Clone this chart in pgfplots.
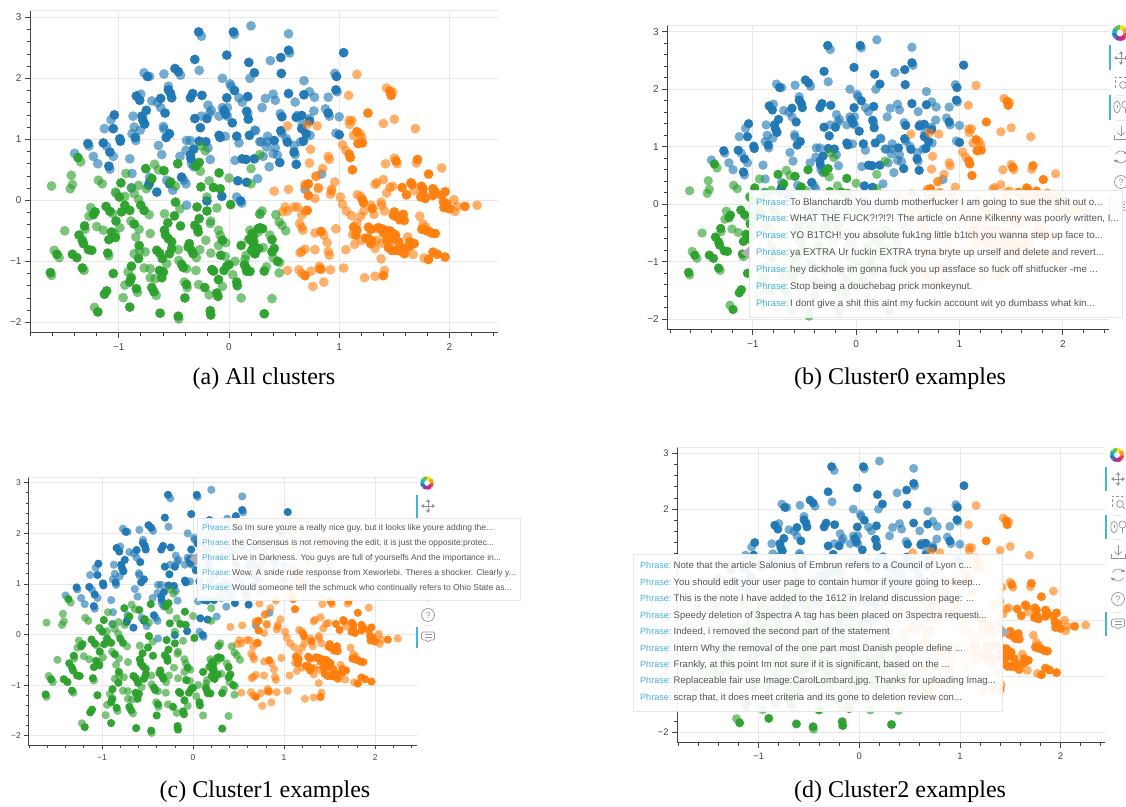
\documentclass[border=0pt]{standalone}
\usepackage{fontspec}
\setmainfont{Liberation Serif}
\newfontfamily\hel{Liberation Sans}
\usepackage{pgfplots}
\usepackage{pgfplotstable}
\pgfplotsset{compat=1.18}
\definecolor{cblue}{HTML}{1F77B4}
\definecolor{corange}{HTML}{FF7F0E}
\definecolor{cgreen}{HTML}{2CA02C}
\definecolor{spine}{HTML}{444444}
\definecolor{gridc}{HTML}{E8E8E8}
\definecolor{phr}{HTML}{4AB2DC}
\definecolor{ttxt}{HTML}{555555}
\definecolor{barc}{HTML}{45B3DC}
\definecolor{icon}{HTML}{959595}

% ---- blue, lighter points
\pgfplotstableread[row sep=\\]{x y\\
.20 2.86\\-.25 2.69\\.05 2.72\\-.44 2.05\\-.27 2.13\\-.77 2.09\\-.72 2.03\\-.59 2.07\\.19 2.0\\-.06 2.0\\.01 1.91\\.02 1.87\\-.55 1.87\\-.80 1.74\\-.70 1.63\\-.65 1.60\\-.62 1.52\\.09 1.68\\.12 1.61\\-.19 1.56\\-.16 1.475\\-.175 1.43\\-.25 1.38\\-.09 1.38\\-.06 1.52\\-.015 1.38\\-.015 1.52\\.17 1.42\\.24 1.14\\.09 .94\\-.035 1.05\\-1.07 1.32\\-1.13 1.175\\-.87 1.38\\-.86 1.2\\-.805 1.15\\-.88 1.09\\-.845 .98\\-.595 1.21\\-.59 1.17\\-.64 .90\\-.61 .75\\-1.27 .89\\-1.11 .885\\-1.05 .72\\-1.40 .77\\-1.23 .72\\-1.19 .60\\-1.08 .51\\-.90 .68\\-.88 .44\\-.385 .98\\-.35 .98\\-.19 .86\\-.39 .82\\-.445 .72\\-.34 .60\\-.32 .55\\-.17 .67\\.055 .655\\-.41 .33\\-.39 .27\\-.72 .38\\-.565 .33\\.26 .355\\.29 .96\\
.54 2.73\\.55 2.415\\.375 2.29\\.96 2.08\\.68 1.96\\.98 1.78\\.40 1.74\\.33 1.67\\.42 1.64\\.30 1.52\\.73 1.78\\.775 1.69\\.60 1.61\\.90 1.69\\.875 1.50\\.91 1.38\\1.0 1.37\\.77 1.465\\.465 1.42\\.62 1.39\\.73 1.34\\.665 1.245\\.735 1.065\\.65 .96\\.48 1.10\\.97 1.10\\.235 1.15\\.35 1.05\\.28 .96\\.35 .96\\.42 .86\\.34 .875\\.40 .765\\.44 .74\\.52 1.01\\.59 .90\\.60 .75\\.31 .72\\.365 .55\\.84 .43\\
-.51 .165\\.07 .055\\.115 -.045\\-.385 -.08\\.69 .18\\-.885 .21\\}\blueL
% ---- blue, darker points
\pgfplotstableread[row sep=\\]{x y\\
-.275 2.76\\.04 2.76\\-.02 2.38\\-.31 2.31\\.18 2.26\\-.49 2.16\\-.46 2.11\\-.74 2.03\\.23 2.09\\.05 1.80\\-.55 1.81\\-.53 1.75\\-.52 1.68\\-.84 1.71\\-.81 1.64\\-.62 1.67\\-.58 1.43\\-.33 1.75\\-.35 1.68\\-.245 1.72\\-.02 1.68\\.17 1.70\\-.31 1.34\\-.2 1.34\\-.26 1.19\\-.045 1.475\\-.03 1.41\\.03 1.27\\.16 1.46\\.175 1.33\\.185 1.065\\.07 1.05\\-.09 1.065\\-.08 1.03\\-1.04 1.40\\-1.05 1.175\\-.79 1.38\\-.75 1.475\\-.78 1.31\\-.765 1.25\\-.85 1.03\\-.99 1.01\\-.985 .97\\-.54 1.09\\-.57 1.03\\-1.28 .93\\-1.14 .94\\-1.08 .79\\-1.09 .56\\-.27 .97\\-.21 .96\\-.32 .84\\-.35 .75\\-.345 .68\\.12 .68\\.155 .67\\.23 .68\\-.43 .38\\-.72 .295\\-.54 .27\\.08 .32\\.16 .295\\
.54 2.46\\.47 2.34\\.475 2.08\\1.04 2.42\\.975 2.03\\.97 1.81\\.54 1.75\\.68 1.73\\.90 1.43\\.48 1.37\\.61 1.36\\.66 1.39\\.73 1.30\\.66 1.175\\.70 1.09\\.675 .97\\.47 1.14\\1.0 1.075\\.41 .98\\.53 .955\\.59 .79\\.46 .62\\.61 .59\\
-.73 .245\\-.655 .135\\.105 -.01\\-.20 -.01\\-.065 .065\\}\blueD
% ---- orange, lighter points
\pgfplotstableread[row sep=\\]{x y\\
1.16 2.065\\1.43 1.84\\1.485 1.77\\1.085 1.72\\1.50 1.33\\1.40 1.26\\1.69 1.175\\1.115 1.31\\1.09 1.31\\1.095 1.245\\.53 1.22\\.71 1.24\\.80 1.22\\1.19 1.09\\1.13 1.065\\1.205 1.03\\1.03 .91\\1.06 .82\\.74 .835\\.90 .72\\.91 .67\\.73 .61\\.85 .52\\.79 .40\\1.42 .60\\1.50 .69\\1.525 .60\\1.70 .61\\1.93 .53\\.96 .30\\1.40 .34\\1.34 .29\\1.325 .26\\.69 .26\\.54 .18\\.41 .15\\.81 .21\\.93 .185\\
1.485 .23\\1.46 .21\\1.43 .12\\1.68 .16\\2.04 .01\\2.07 -.10\\2.05 -.185\\2.25 -.08\\.92 .10\\.93 .15\\1.01 .055\\1.03 -.065\\1.065 -.175\\1.11 -.25\\1.165 .09\\1.195 .065\\1.225 -.175\\1.195 -.26\\1.16 -.37\\1.29 -.08\\1.315 -.23\\1.38 -.03\\1.385 -.08\\1.41 -.175\\.69 -.175\\.51 -.11\\.53 -.175\\.485 -.19\\.59 -.11\\.62 -.11\\.66 -.24\\.64 -.38\\.66 -.44\\.67 -.49\\.78 -.535\\.86 -.57\\.89 -.69\\.97 -.465\\.69 -.80\\.66 -.84\\.645 -.86\\.78 -.81\\.90 -.84\\.91 -.90\\1.06 -.81\\.53 -1.15\\.635 -1.14\\.66 -1.20\\.745 -1.16\\.82 -1.08\\.84 -1.13\\.92 -1.14\\1.04 -1.11\\.76 -1.41\\.86 -1.34\\1.23 -1.27\\1.325 -1.245\\1.41 -1.15\\1.38 -.96\\1.73 -.26\\1.76 -.39\\1.785 -.44\\1.62 -.60\\1.67 -.89\\1.77 -.945\\1.12 -.56\\1.20 -.655\\1.14 -.72\\1.335 -.465\\1.325 -.79\\1.335 -.655\\1.385 -.70\\1.46 -.71\\1.55 -.765\\.78 .03\\.81 .19\\.69 .235\\.79 .39\\}\orangeL
% ---- orange, darker points
\pgfplotstableread[row sep=\\]{x y\\
1.46 1.79\\1.47 1.72\\1.26 1.43\\1.16 1.125\\1.21 .94\\1.17 .93\\1.09 .755\\1.10 .70\\1.12 .50\\1.515 .645\\1.71 .67\\1.81 .43\\.72 .27\\
1.57 .21\\1.61 .09\\1.65 .285\\1.66 .26\\1.745 .23\\1.76 .19\\1.78 .03\\1.74 .055\\1.76 .11\\1.85 .19\\1.87 .14\\1.85 .08\\1.96 .14\\1.93 .08\\1.945 -.03\\1.975 -.055\\1.95 -.12\\2.0 -.14\\2.14 -.10\\1.21 .01\\1.22 -.04\\1.30 -.135\\1.50 -.19\\1.49 -.245\\1.52 -.27\\1.58 -.23\\1.55 -.32\\1.59 -.33\\.71 -.165\\.835 -.51\\.69 -1.235\\.825 -1.125\\1.40 -1.235\\1.75 -.475\\1.78 -.49\\1.81 -.51\\1.84 -.535\\1.87 -.545\\1.64 -.68\\1.68 -.71\\1.64 -.755\\1.85 -.85\\1.89 -.885\\1.81 -.97\\1.96 -.93\\1.13 -.44\\1.16 -.49\\1.15 -.57\\1.265 -.44\\1.285 -.48\\1.355 -.45\\1.385 -.465\\1.415 -.49\\1.46 -.50\\1.49 -.545\\1.51 -.57\\1.445 -.57\\1.40 -.535\\1.24 -.62\\1.265 -.63\\1.295 -.665\\1.285 -.71\\1.43 -.655\\1.46 -.63\\1.49 -.63\\1.445 -.775\\1.475 -.82\\1.51 -.82\\1.54 -.68\\1.57 -.775\\1.55 -.83\\1.59 -.875\\1.60 -.79\\.72 .08\\}\orangeD
% ---- green, lighter points
\pgfplotstableread[row sep=\\]{x y\\
-1.345 .63\\-1.43 .41\\-1.42 .26\\-1.61 .235\\-1.44 .19\\-1.185 .33\\-1.15 .27\\-.935 .44\\-.675 .59\\-.64 .50\\-.26 .475\\-.18 .32\\0 .365\\.20 .52\\.28 .75\\-.25 .89\\-.215 .81\\-.82 .245\\-.75 .19\\-.485 .235\\.20 .27\\-1.03 .135\\-.885 .20\\
-1.025 .12\\-.945 .065\\-.86 .11\\-.82 .015\\-1.255 -.12\\-1.27 -.26\\-1.055 -.22\\-1.20 -.43\\-1.305 -.475\\-1.49 -.50\\-1.14 -.49\\-1.035 -.55\\-.99 -.45\\-1.585 -.82\\-1.54 -.94\\-1.315 -1.15\\-1.61 -1.23\\-1.09 -.91\\-1.22 -1.755\\-.96 -1.595\\-.915 -1.175\\-.885 -1.26\\-.945 -1.39\\-.86 -.875\\-.81 -.82\\-.76 -.845\\-.89 -.34\\-.815 -.475\\-.845 -.60\\-.725 -.235\\-.715 -.545\\-.585 -.22\\-.445 -.14\\-.46 -.81\\-.565 -1.04\\-.77 -1.11\\-.715 -1.12\\-.715 -1.27\\-.67 -1.285\\-.83 -1.51\\-.66 -1.56\\-.455 -1.945\\-.455 -.985\\-.385 -1.12\\-.405 -1.34\\-.38 -1.43\\-.30 -1.15\\-.275 -1.38\\-.18 -1.55\\-.06 -1.41\\.11 -1.60\\.055 -1.0\\.035 -1.22\\.145 -.97\\.155 -.90\\-.035 -.92\\-.03 -.695\\-.095 -.49\\-.08 -.575\\-.095 -.74\\-.165 -.865\\-.21 -.655\\-.265 -.81\\-.295 -.94\\-.165 -.34\\-.17 -.38\\-.20 .055\\-.11 -.125\\.28 -.22\\.265 -.52\\.19 -.49\\.175 -.645\\
.31 -.775\\.30 -.175\\.28 -.23\\.425 -.235\\.455 -.355\\.48 -.41\\.515 -.50\\.37 -.57\\.40 -.94\\.46 -1.02\\.34 -1.09\\.455 -1.19\\.39 -1.61\\}\greenL
% ---- green, darker points
\pgfplotstableread[row sep=\\]{x y\\
-1.37 .70\\-.755 .52\\-.59 .485\\-.465 .60\\-.27 .62\\-.30 .56\\-.09 .45\\-.98 .285\\-.70 .355\\-.53 .30\\-.255 .22\\-.14 .21\\-.08 .19\\
-.995 .055\\-.945 -.08\\-.975 -.19\\-.90 -.165\\-1.215 -.19\\-1.23 -.235\\-1.115 -.10\\-1.08 -.18\\-1.025 -.34\\-1.31 -.42\\-1.36 -.57\\-1.33 -.655\\-1.32 -.71\\-1.065 -.52\\-1.09 -.645\\-1.03 -.61\\-1.275 -.81\\-1.245 -.82\\-1.56 -.885\\-1.42 -.885\\-1.38 -.94\\-1.33 -1.11\\-1.62 -1.185\\-1.10 -.865\\-1.05 -1.20\\-1.11 -1.485\\-1.13 -1.54\\-1.19 -1.83\\-.90 -1.75\\-.89 -1.285\\-.90 -1.34\\-.885 -1.08\\-.82 -.955\\-.815 -.74\\-.86 -.39\\-.80 -.08\\-.77 -.165\\-.495 -.255\\-.555 -.37\\-.485 -.03\\-.44 -.42\\-.585 -.49\\-.575 -.57\\-.55 -.63\\-.52 -.68\\-.52 -.79\\-.54 -.875\\-.655 -.82\\-.63 -.865\\-.605 -.955\\-.63 -1.15\\-.595 -1.175\\-.61 -1.27\\-.84 -1.45\\-.70 -1.43\\-.68 -1.50\\-.625 -1.85\\-.46 -1.90\\-.43 -1.05\\-.415 -1.10\\-.385 -1.38\\-.40 -1.60\\-.22 -1.43\\-.11 -1.52\\-.10 -1.575\\-.17 -1.81\\-.165 -1.88\\-.155 -1.135\\-.14 -1.16\\-.095 -1.30\\.07 -1.34\\.075 -1.40\\-.045 -1.15\\-.02 -1.08\\0 -1.055\\.14 -1.055\\.155 -1.11\\.16 -1.16\\-.075 -.90\\-.06 -.655\\-.36 -.71\\-.37 -.765\\-.34 -.82\\-.325 -.875\\-.31 -.41\\-.27 -.30\\-.285 -.465\\-.28 -.52\\-.20 -.175\\-.29 -.11\\.015 -.07\\.11 -.74\\.22 -.59\\.22 -.71\\.235 -.875\\.265 -.465\\
.21 -.545\\.19 -.63\\.225 -.68\\.205 -.82\\.235 -.875\\.27 -.79\\.28 -.45\\.305 -.465\\.39 -.645\\.41 -.79\\.39 -.845\\.44 -1.0\\.32 -1.16\\.32 -1.86\\.19 -1.165\\}\greenD

\pgfplotsset{panel/.style={
  scale only axis, anchor=south west,
  axis lines*=left, axis line style={-,color=spine,line width=1pt},
  tick align=outside, major tick length=5pt, minor tick length=3pt,
  tick style={color=spine,line width=.8pt},
  minor tick style={line width=.7pt},
  xmajorgrids, ymajorgrids, grid style={gridc,line width=.8pt},
  xtick={-1,0,1,2}, xticklabels={−1,0,1,2},
  ytick={-2,-1,0,1,2,3}, yticklabels={−2,−1,0,1,2,3},
  minor xtick={-1.8,-1.6,-1.4,-1.2,-.8,-.6,-.4,-.2,.2,.4,.6,.8,1.2,1.4,1.6,1.8,2.2,2.4},
  minor ytick={-1.8,-1.6,-1.4,-1.2,-.8,-.6,-.4,-.2,.2,.4,.6,.8,1.2,1.4,1.6,1.8,2.2,2.4,2.6,2.8},
  tick label style={text=spine},
  xticklabel style={yshift=-2pt},
  clip=true,
}}
\newcommand\clusters[1]{%
  \addplot[only marks,mark=*,mark size=#1,mark options={draw opacity=0,fill=cblue,fill opacity=.62}] table {\blueL};
  \addplot[only marks,mark=*,mark size=#1,mark options={draw opacity=0,fill=cblue,fill opacity=.97}] table {\blueD};
  \addplot[only marks,mark=*,mark size=#1,mark options={draw opacity=0,fill=corange,fill opacity=.62}] table {\orangeL};
  \addplot[only marks,mark=*,mark size=#1,mark options={draw opacity=0,fill=corange,fill opacity=.97}] table {\orangeD};
  \addplot[only marks,mark=*,mark size=#1,mark options={draw opacity=0,fill=cgreen,fill opacity=.62}] table {\greenL};
  \addplot[only marks,mark=*,mark size=#1,mark options={draw opacity=0,fill=cgreen,fill opacity=.97}] table {\greenD};
  \draw[gridc,line width=.8pt] (rel axis cs:0,1) -- (rel axis cs:1,1) -- (rel axis cs:1,0);
}
% ---- toolbar glyphs, coordinates in image pixels (scope below)
\newcommand\icmove[2]{\begin{scope}[shift={(#1,#2)},icon,line width=.7pt]
  \draw (-6,0)--(6,0) (0,-6)--(0,6);
  \fill (-7,0)--(-4,-2)--(-4,2)--cycle (7,0)--(4,-2)--(4,2)--cycle (0,-7)--(-2,-4)--(2,-4)--cycle (0,7)--(-2,4)--(2,4)--cycle;
\end{scope}}
\newcommand\iczoom[2]{\begin{scope}[shift={(#1,#2)},icon,line width=.7pt]
  \draw[densely dashed] (-6,5)--(-6,-6)--(5,-6);
  \draw (2,2) circle (3.4); \draw (4.5,4.5)--(7,7);
\end{scope}}
\newcommand\icwheel[2]{\begin{scope}[shift={(#1,#2)},icon,line width=.7pt]
  \draw (-4,0) ellipse (3.2 and 6); \draw (-4,-2)--(-4,1);
  \draw (4.5,-2.5) circle (3.6); \draw (4.5,1)--(4.5,6.5);
\end{scope}}
\newcommand\icsave[2]{\begin{scope}[shift={(#1,#2)},icon,line width=.7pt]
  \draw (-7,2)--(-7,6)--(7,6)--(7,2); \draw (0,-7)--(0,3);
  \draw (-3.5,-.5)--(0,3)--(3.5,-.5);
\end{scope}}
\newcommand\icreset[2]{\begin{scope}[shift={(#1,#2)},icon,line width=.7pt]
  \draw (25:6) arc[start angle=25,end angle=150,radius=6];
  \draw (205:6) arc[start angle=205,end angle=330,radius=6];
  \fill (150:6)++(-2.2,0)--++(4.4,0)--++(-2.2,2.8)--cycle;
  \fill (330:6)++(-2.2,0)--++(4.4,0)--++(-2.2,-2.8)--cycle;
\end{scope}}
\newcommand\ichelp[2]{\begin{scope}[shift={(#1,#2)},icon,line width=.7pt]
  \draw (0,0) circle (6.5);
  \node[inner sep=0,text=icon] at (0,0) {\hel\fontsize{9}{9}\selectfont ?};
\end{scope}}
\newcommand\iccomment[2]{\begin{scope}[shift={(#1,#2)},icon,line width=.7pt]
  \draw[rounded corners=1.5] (-6.5,-5)--(6.5,-5)--(6.5,3)--(2,3)--(-1,6)--(-1,3)--(-6.5,3)--cycle;
  \draw (-3.5,-2.5)--(3.5,-2.5) (-3.5,.5)--(3.5,.5);
\end{scope}}
\newcommand\iclogo[3]{\begin{scope}[shift={(#1,#2)},line width=#3*.55pt]
  \foreach \cc/\ang in {F5403C/0,E5187A/45,8A3FA8/90,2E75C8/135,20B5B0/180,5FC24A/225,F4E11E/270,F9A01B/315}{
    \definecolor{lg}{HTML}{\cc}
    \draw[lg] (\ang:#3*.72) arc[start angle=\ang,delta angle=47,radius=#3*.72];
  }
\end{scope}}
\newcommand\tbar[3]{\draw[barc,line width=1.6pt] (#1,#2)--(#1,#3);}
\newcommand\tsep[2]{\draw[gridc,line width=.8pt] (#1-4,#2)--(#1+4,#2);}
\newcommand\phrase[4]{%x y textx text; \txtf is the text's size
  \node[anchor=west,inner sep=0,text=phr] at (#1,#2) {\strut Phrase:};
  \node[anchor=west,inner sep=0,text=ttxt] at (#3,#2) {\txtf\strut #4};
}
\newcommand\capt[3]{\node[inner sep=0] at (#1,#2) {\fontsize{24}{26}\selectfont #3};}

\begin{document}
\begin{tikzpicture}
\useasboundingbox (0,0) rectangle (1126pt,806pt);
% (a)
\begin{axis}[panel,at={(30pt,473pt)},width=468pt,height=323pt,
  xmin=-1.805,xmax=2.44,ymin=-2.175,ymax=3.12,
  tick label style={font=\hel\fontsize{10}{11}\selectfont}]
\clusters{4.9pt}
\end{axis}
% (b)
\begin{axis}[panel,at={(667.3pt,476pt)},width=441.7pt,height=305pt,
  xmin=-1.826,xmax=2.446,ymin=-2.186,ymax=3.117,
  tick label style={font=\hel\fontsize{10}{11}\selectfont}]
\clusters{4.7pt}
\end{axis}
% (c)
\begin{axis}[panel,at={(28.3pt,60.7pt)},width=388.7pt,height=268pt,
  xmin=-1.81,xmax=2.46,ymin=-2.19,ymax=3.107,
  tick label style={font=\hel\fontsize{8.5}{9}\selectfont},major tick length=4pt,minor tick length=2.5pt]
\clusters{4.1pt}
\end{axis}
% (d)
\begin{axis}[panel,at={(677.3pt,63.3pt)},width=427.7pt,height=295.4pt,
  xmin=-1.809,xmax=2.442,ymin=-2.186,ymax=3.107,
  tick label style={font=\hel\fontsize{9.5}{10}\selectfont}]
\clusters{4.5pt}
\end{axis}

\begin{scope}[x=1pt,y=-1pt,yshift=806pt]
% toolbars
\iclogo{1120}{33}{8}
\tbar{1110}{45}{70}\tbar{1110}{95}{120}\tbar{1110}{195}{218}
\icmove{1121}{58}\iczoom{1121}{83}\icwheel{1121}{107}\icsave{1121}{133}\icreset{1121}{157}\ichelp{1121}{182}\iccomment{1121}{207}
\tsep{1121}{95}\tsep{1121}{120}\tsep{1121}{195}

\iclogo{427}{483}{7}
\tbar{417}{495}{520}\tbar{417}{627}{648}
\icmove{428}{506}\iczoom{428}{531}\icwheel{428}{555}\icsave{428}{575}\icreset{428}{595}\ichelp{428}{615}\iccomment{428}{637}
\tsep{428}{625}

\iclogo{1117}{455}{7.5}
\tbar{1106}{467}{491}\tbar{1106}{515}{539}\tbar{1106}{612}{636}
\icmove{1118}{479}\iczoom{1118}{502}\icwheel{1118}{527}\icsave{1118}{552}\icreset{1118}{575}\ichelp{1118}{599}\iccomment{1118}{624}
\tsep{1118}{515}\tsep{1118}{539}\tsep{1118}{612}

% tooltip (b)
\begin{scope}[every node/.append style={font=\hel\fontsize{9.4}{11}\selectfont}]
\def\txtf{\fontsize{9.75}{11}\selectfont}
\fill[white,fill opacity=.93] (749,190) rectangle (1122,317);
\draw[gray!18,line width=.7pt] (749,190) rectangle (1122,317);
\fill[gray!65] (741,253)--(749,247)--(749,259)--cycle;
\phrase{756}{203}{790}{To Blanchardb You dumb motherfucker I am going to sue the shit out o...}
\phrase{756}{219}{790}{WHAT THE FUCK?!?!?! The article on Anne Kilkenny was poorly written, I...}
\phrase{756}{236}{790}{YO B1TCH! you absolute fuk1ng little b1tch you wanna step up face to...}
\phrase{756}{253}{790}{ya EXTRA Ur fuckin EXTRA tryna bryte up urself and delete and revert...}
\phrase{756}{270}{790}{hey dickhole im gonna fuck you up assface so fuck off shitfucker -me ...}
\phrase{756}{287}{790}{Stop being a douchebag prick monkeynut.}
\phrase{756}{304}{790}{I dont give a shit this aint my fuckin account wit yo dumbass what kin...}
\end{scope}
% tooltip (c)
\begin{scope}[every node/.append style={font=\hel\fontsize{8.3}{10}\selectfont}]
\def\txtf{\fontsize{8.5}{10}\selectfont}
\fill[white,fill opacity=.93] (197,518) rectangle (520,600);
\draw[gray!18,line width=.7pt] (197,518) rectangle (520,600);
\fill[gray!65] (189,559)--(197,553)--(197,565)--cycle;
\phrase{202}{529}{232}{So Im sure youre a really nice guy, but it looks like youre adding the...}
\phrase{202}{544}{232}{the Consensus is not removing the edit, it is just the opposite:protec...}
\phrase{202}{559}{232}{Live in Darkness. You guys are full of yourselfs And the importance in...}
\phrase{202}{574}{232}{Wow. A snide rude response from Xeworlebi. Theres a shocker. Clearly y...}
\phrase{202}{589}{232}{Would someone tell the schmuck who continually refers to Ohio State as...}
\end{scope}
% tooltip (d)
\begin{scope}[every node/.append style={font=\hel\fontsize{9.05}{11}\selectfont}]
\def\txtf{\fontsize{9.55}{11}\selectfont}
\fill[white,fill opacity=.93] (633,554) rectangle (1002,711);
\draw[gray!18,line width=.7pt] (633,554) rectangle (1002,711);
\fill[gray!65] (1010,632)--(1002,626)--(1002,638)--cycle;
\phrase{640}{566}{673.5}{Note that the article Salonius of Embrun refers to a Council of Lyon c...}
\phrase{640}{583}{673.5}{You should edit your user page to contain humor if youre going to keep...}
\phrase{640}{599}{673.5}{This is the note I have added to the 1612 in Ireland discussion page: ...}
\phrase{640}{616}{673.5}{Speedy deletion of 3spectra A tag has been placed on 3spectra requesti...}
\phrase{640}{632}{673.5}{Indeed, i removed the second part of the statement}
\phrase{640}{649}{673.5}{Intern Why the removal of the one part most Danish people define ...}
\phrase{640}{665}{673.5}{Frankly, at this point Im not sure if it is significant, based on the ...}
\phrase{640}{681}{673.5}{Replaceable fair use Image:CarolLombard.jpg. Thanks for uploading Imag...}
\phrase{640}{698}{673.5}{scrap that, it does meet criteria and its gone to deletion review con...}
\end{scope}
% captions
\capt{264}{379}{(a) All clusters}
\capt{900}{379}{(b) Cluster0 examples}
\capt{265}{792}{(c) Cluster1 examples}
\capt{900}{792}{(d) Cluster2 examples}
\end{scope}
\end{tikzpicture}
\end{document}
